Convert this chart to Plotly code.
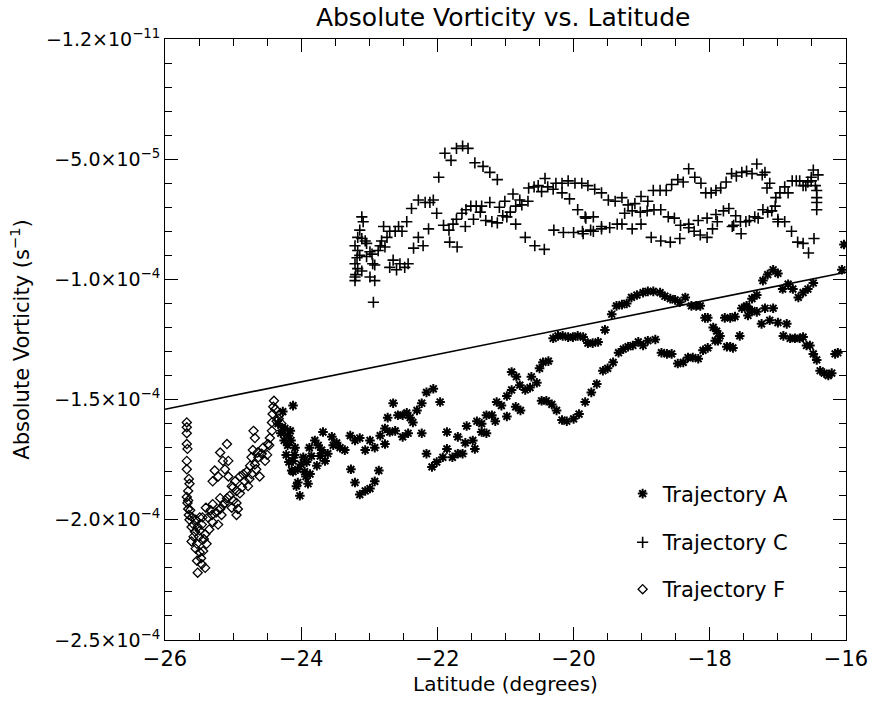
import numpy as np
import plotly.graph_objects as go

# ---------------- data (latitude in degrees, vorticity in units of 1e-5 s^-1) ----------------
lat_a = [-24.12, -24.27, -24.34, -24.24, -24.19, -24.15, -24.09, -24.16, -24.12, -24.12, -24.05, -24.02,
         -24.14, -23.92, -23.97, -23.87, -23.90, -23.85, -23.77, -23.80, -23.68, -23.72, -23.65, -23.61,
         -23.55, -23.53, -23.48, -23.43, -23.36, -23.28, -23.21, -23.14, -23.06, -22.99, -22.92, -22.84,
         -22.77, -22.70, -22.62, -22.77, -22.73, -22.65, -22.58, -22.51, -22.45, -22.40, -22.36, -22.30,
         -22.23, -22.16, -22.06, -21.96, -22.23, -22.43, -22.51,
         -24.20, -24.10, -24.00, -23.95, -24.05, -23.88, -23.75, -23.70, -24.22, -24.18, -24.25, -24.30,
         -24.07, -23.93,
         -23.27, -23.21, -23.14, -23.06, -22.99, -22.92, -22.86, -22.16, -22.08, -22.01, -21.92, -21.86,
         -21.78, -21.70, -21.63, -21.59, -21.70, -21.48, -21.45, -21.57, -21.42, -21.35, -21.35, -21.28,
         -21.28, -21.20, -21.15, -21.13, -21.06, -20.98, -20.98, -20.91, -20.91, -20.84, -20.79, -20.71,
         -20.64, -20.62, -20.54, -20.50, -20.45, -20.37, -20.78, -20.85, -21.86,
         -20.47, -20.40, -20.32, -20.25, -20.17, -20.10, -20.00, -19.92, -19.83, -19.74, -19.66, -19.57,
         -19.50, -19.42, -19.34, -19.27, -19.20, -19.13, -19.05, -18.98, -18.91, -18.80, -18.71, -18.63,
         -18.56, -18.47, -18.39, -18.32, -18.25, -18.17, -18.10, -18.03, -17.95, -17.90, -17.85, -17.92,
         -17.88, -17.75, -17.70, -17.66, -17.56, -17.53, -17.46, -17.44, -17.38, -17.31, -17.24, -17.19,
         -17.07, -17.12, -17.00, -16.87, -16.92, -16.82, -16.75, -16.68, -16.63, -16.58, -16.53, -16.48,
         -16.43, -16.38, -16.32, -16.26, -16.21, -16.16, -16.12,
         -20.30, -20.23, -20.16, -20.08, -20.01, -19.94, -19.86, -19.79, -19.72, -19.64, -19.54, -19.44,
         -19.37, -19.29, -19.22, -19.15, -19.07, -18.98, -18.91, -18.83, -18.73, -18.66, -18.58, -18.51,
         -18.44, -18.36, -18.27, -18.20, -18.14, -18.07, -18.03, -17.78, -17.70, -17.63, -17.46, -17.38,
         -17.31, -17.22, -17.15, -17.07, -17.00, -16.93, -16.85, -16.78, -16.70, -16.63, -16.56, -16.48,
         -16.06, -16.03]
vort_a = [-15.25, -15.5, -16.0, -16.2, -16.5, -16.7, -17.0, -16.3, -17.55, -18.0, -18.45, -19.0,
          -17.95, -17.6, -17.4, -18.1, -18.5, -17.35, -17.75, -16.7, -16.35, -17.35, -17.55, -17.25,
          -16.55, -16.9, -16.8, -17.0, -17.1, -16.5, -16.7, -16.6, -17.1, -16.7, -17.0, -16.5,
          -16.2, -16.35, -16.3, -16.85, -15.75, -15.15, -15.65, -15.65, -15.55, -15.75, -15.95, -15.45,
          -15.15, -14.7, -14.55, -15.1, -16.4, -16.4, -16.55,
          -16.9, -17.3, -17.7, -18.0, -17.9, -17.0, -16.9, -17.1, -17.3, -17.6, -16.7, -16.4,
          -18.6, -18.2,
          -17.9, -18.45, -18.95, -18.8, -18.7, -18.4, -17.95, -17.25, -17.8, -17.6, -17.4, -17.05,
          -17.4, -17.25, -17.25, -16.8, -16.55, -16.7, -17.05, -16.1, -15.9, -16.0, -16.35, -16.4,
          -15.65, -15.65, -15.9, -15.1, -15.25, -15.7, -14.85, -14.6, -13.85, -14.05, -14.4, -14.6,
          -14.5, -14.05, -14.3, -13.7, -13.45, -13.4, -15.45, -15.3, -16.35,
          -15.05, -15.05, -15.2, -15.45, -15.85, -15.9, -15.8, -15.6, -15.1, -14.7, -14.35, -13.8,
          -13.7, -13.45, -13.05, -12.9, -12.8, -12.75, -12.6, -12.75, -12.55, -12.5, -13.05, -13.1,
          -13.1, -13.5, -13.45, -13.25, -13.25, -13.3, -12.95, -12.85, -12.0, -12.15, -12.35, -12.55,
          -12.55, -12.8, -12.8, -12.85, -12.35, -11.2, -11.15, -11.5, -11.3, -11.35, -11.85, -11.2,
          -11.2, -11.7, -11.8, -11.85, -12.35, -12.45, -12.45, -12.45, -12.4, -12.75, -12.75, -13.1,
          -13.35, -13.8, -13.9, -14.0, -13.9, -13.1, -13.05,
          -12.45, -12.35, -12.35, -12.4, -12.4, -12.35, -12.4, -12.65, -12.65, -12.6, -12.1, -11.45,
          -11.1, -11.05, -11.0, -10.75, -10.65, -10.55, -10.5, -10.5, -10.55, -10.7, -10.8, -10.85,
          -10.95, -10.75, -11.1, -11.1, -11.1, -11.6, -11.6, -11.6, -11.6, -11.55, -11.1, -10.8,
          -10.65, -10.05, -9.8, -9.6, -9.75, -10.4, -10.2, -10.4, -10.75, -10.55, -10.4, -10.15,
          -9.6, -8.55]

lat_c = [-23.11, -23.09, -23.14, -23.17, -23.11, -23.06, -23.04, -23.21, -23.17, -23.14, -23.18, -23.21,
         -23.17, -23.11, -23.20, -23.21, -23.21, -23.04, -22.99, -22.96, -22.95, -22.92, -22.99, -22.92,
         -22.94, -22.87, -22.84, -22.79, -22.82, -22.74, -22.70, -22.62, -22.57, -22.52, -22.45, -22.77,
         -22.70, -22.65, -22.60, -22.55, -22.48, -22.43, -22.38, -22.35, -22.28, -22.28, -22.18, -22.11,
         -22.06, -22.21, -22.13, -22.01, -21.98, -21.89, -21.80, -21.72, -21.63, -21.55, -21.45, -21.33,
         -21.23, -21.12, -21.91, -21.83, -21.77, -21.72, -21.64, -21.58, -21.51, -21.43, -21.35, -21.37,
         -21.82, -21.71, -21.59, -21.47, -21.29, -21.20, -21.12, -21.23, -21.09, -21.01, -21.04, -20.98,
         -20.93, -20.89, -20.85, -20.85, -20.76, -20.79, -20.67, -20.71, -20.57, -20.43, -20.66, -20.58,
         -20.47, -20.52, -20.42, -20.38, -20.30, -20.26, -20.17, -20.17, -20.08, -19.98, -19.88, -19.79,
         -20.06, -19.94, -19.82, -20.29, -20.15, -20.00, -19.87, -19.75,
         -19.69, -19.59, -19.49, -19.39, -19.29, -19.20, -19.10, -19.01, -18.91, -18.83, -18.73, -18.64,
         -18.56, -18.47, -18.39, -18.31, -18.22, -18.13, -18.06, -17.98, -17.91, -17.84, -17.76, -17.68,
         -17.61, -17.53, -17.46, -17.38, -17.31, -17.23, -17.19, -17.16, -17.12, -17.03, -16.97, -16.90,
         -16.85, -16.79, -16.73, -16.68, -16.63, -16.56, -16.51, -16.48, -16.45, -16.43, -16.43, -16.43,
         -16.43, -16.51, -16.59, -16.41,
         -19.83, -19.71, -19.59, -19.47, -19.36, -19.29, -19.25, -19.14, -19.02, -18.92, -18.82, -18.72,
         -19.14, -19.01, -18.61, -18.52, -18.43, -18.31, -18.31, -18.17, -18.04, -17.96, -17.89, -17.91,
         -17.80, -17.72, -17.65, -17.62, -17.55, -17.47, -17.42, -17.34, -17.29, -17.22, -17.15, -17.09,
         -17.04, -17.00, -16.90, -17.00,
         -19.86, -19.71, -19.59, -18.86, -18.72, -18.58, -18.44, -18.23, -18.14, -18.04, -17.67, -17.54,
         -16.80, -16.71, -16.63, -16.55, -16.47]
vort_c = [-7.4, -7.6, -7.95, -8.25, -8.3, -8.4, -8.5, -8.6, -8.8, -9.0, -9.1, -9.35,
          -9.55, -9.65, -9.8, -9.9, -10.05, -9.05, -8.85, -8.95, -9.35, -9.4, -9.9, -10.05,
          -10.95, -8.8, -8.6, -7.8, -8.4, -8.25, -8.0, -8.0, -7.8, -8.0, -7.6, -8.65,
          -9.5, -9.2, -9.6, -9.35, -9.5, -9.35, -7.05, -8.7, -8.25, -6.7, -6.8, -6.8,
          -6.7, -8.6, -7.9, -7.25, -5.75, -4.75, -5.05, -4.55, -4.45, -4.55, -5.15, -5.3,
          -5.55, -5.85, -7.75, -7.95, -7.7, -7.5, -7.25, -7.1, -6.95, -6.95, -6.95, -7.2,
          -8.45, -8.65, -7.8, -7.5, -7.55, -7.6, -7.65, -6.8, -7.0, -6.75, -7.35, -7.4,
          -7.2, -6.45, -7.7, -6.95, -6.9, -6.7, -6.75, -8.25, -8.6, -8.75, -6.2, -6.15,
          -6.35, -6.1, -5.8, -6.15, -6.25, -6.0, -6.0, -6.4, -5.9, -6.0, -6.0, -6.1,
          -6.65, -7.1, -7.45, -7.95, -8.05, -8.05, -8.0, -7.95,
          -6.25, -6.4, -6.7, -6.75, -6.6, -6.9, -6.85, -6.55, -6.75, -6.3, -6.3, -6.3,
          -6.05, -5.85, -5.95, -5.4, -5.75, -6.0, -6.4, -6.4, -6.3, -6.2, -5.95, -5.6,
          -5.7, -5.55, -5.5, -5.6, -5.2, -5.65, -5.55, -6.2, -6.0, -6.6, -6.4, -6.15,
          -6.4, -5.9, -5.9, -5.9, -6.1, -5.95, -5.75, -5.45, -6.1, -6.3, -6.6, -6.8,
          -7.1, -5.9, -6.1, -5.65,
          -7.4, -7.4, -7.8, -7.85, -7.7, -7.7, -7.25, -7.15, -7.2, -7.15, -7.1, -7.1,
          -7.9, -7.7, -7.4, -7.45, -7.75, -7.7, -7.85, -7.55, -7.45, -7.9, -7.6, -7.3,
          -7.15, -7.05, -7.75, -7.35, -7.6, -7.6, -7.55, -7.4, -7.45, -7.1, -7.2, -7.15,
          -6.95, -7.5, -7.6, -7.6,
          -8.1, -8.0, -7.9, -8.25, -8.4, -8.45, -8.3, -8.0, -8.15, -8.25, -7.8, -8.1,
          -8.0, -8.45, -8.5, -8.9, -8.3]

lat_f = [-25.68, -25.68, -25.68, -25.68, -25.67, -25.68, -25.68, -25.65, -25.64, -25.66, -25.68, -25.67,
         -25.66, -25.65, -25.64, -25.61, -25.56, -25.58, -25.61, -25.53, -25.49, -25.53, -25.46, -25.52,
         -25.41, -25.39, -25.41, -25.46, -25.49, -25.49, -25.37, -25.30, -25.31, -25.22, -25.30, -25.19,
         -25.09, -25.15, -25.02, -24.95, -24.93, -25.05, -25.00, -24.95, -24.87, -24.83, -24.78, -24.80,
         -24.73, -24.75, -24.68, -24.73, -24.71, -24.63, -24.58, -24.53, -24.61, -24.68, -24.70, -24.49,
         -24.46, -24.43, -24.43, -24.42, -24.41, -24.40, -24.36, -24.31, -24.29, -24.24, -25.27, -25.30,
         -25.19, -25.09, -25.15, -25.07, -25.12, -25.22, -25.07, -25.02, -24.90, -25.19, -24.95,
         -25.66, -25.63, -25.60, -25.58, -25.55, -25.52, -25.50, -25.55, -25.47, -25.44, -25.43, -25.35,
         -25.33, -25.25, -25.17, -25.12, -25.00, -24.97, -24.90, -24.85, -24.76, -24.66, -24.64, -24.56,
         -24.50, -24.47, -24.38, -24.33, -24.27, -25.40, -25.45]
vort_f = [-15.95, -16.15, -16.4, -16.85, -17.05, -17.55, -17.9, -18.3, -18.5, -18.8, -19.05, -19.3,
          -19.55, -19.8, -20.0, -20.3, -20.5, -20.7, -20.9, -21.0, -21.35, -21.7, -21.85, -22.2,
          -22.0, -21.0, -20.6, -20.2, -19.9, -20.45, -19.9, -20.1, -19.8, -20.2, -19.35, -19.1,
          -19.1, -19.4, -19.5, -19.8, -19.55, -19.0, -18.65, -18.8, -18.65, -18.4, -18.6, -18.0,
          -18.1, -17.75, -17.7, -17.4, -17.1, -17.4, -17.25, -17.55, -18.2, -16.6, -16.3, -16.85,
          -16.6, -16.3, -15.95, -15.6, -15.3, -15.05, -15.9, -15.6, -16.0, -16.3, -17.95, -18.4,
          -17.2, -16.85, -17.55, -17.55, -17.9, -18.2, -18.2, -18.6, -18.2, -19.55, -19.3,
          -19.2, -19.6, -19.9, -20.2, -20.0, -20.3, -20.7, -21.2, -21.6, -21.3, -20.8, -20.4,
          -19.6, -19.7, -19.8, -19.3, -19.2, -18.4, -18.9, -18.1, -18.3, -17.9, -17.2, -17.0,
          -17.3, -16.9, -15.4, -15.8, -16.2, -19.5, -19.9]

fit_lat = [-26.0, -16.0]
fit_vort = [-15.4, -9.7]

scale = 1e-5
ytick_vals = [-2.5e-4, -2.0e-4, -1.5e-4, -1.0e-4, -5.0e-5, 0.0]
ytick_text = ["−2.5×10<sup>−4</sup>", "−2.0×10<sup>−4</sup>", "−1.5×10<sup>−4</sup>",
              "−1.0×10<sup>−4</sup>", "−5.0×10<sup>−5</sup>", "−1.2×10<sup>−11</sup>"]
xtick_vals = [-26, -24, -22, -20, -18, -16]
xtick_text = ["−26", "−24", "−22", "−20", "−18", "−16"]

FONT = "DejaVu Sans"

fig = go.Figure()
fig.add_trace(go.Scatter(x=fit_lat, y=[v * scale for v in fit_vort], mode="lines",
                         line=dict(color="black", width=1.6), showlegend=False, hoverinfo="skip"))
fig.add_trace(go.Scatter(x=lat_a, y=[v * scale for v in vort_a], mode="markers", name="Trajectory A",
                         marker=dict(symbol="asterisk-open", size=8, color="black",
                                     line=dict(color="black", width=2)), legend="legend"))
fig.add_trace(go.Scatter(x=lat_c, y=[v * scale for v in vort_c], mode="markers", name="Trajectory C",
                         marker=dict(symbol="cross-thin-open", size=8, color="black",
                                     line=dict(color="black", width=1.6)), legend="legend2"))
fig.add_trace(go.Scatter(x=lat_f, y=[v * scale for v in vort_f], mode="markers", name="Trajectory F",
                         marker=dict(symbol="diamond-open", size=7, color="black",
                                     line=dict(color="black", width=1.3)), legend="legend3"))

leg_common = dict(x=0.672, xanchor="left", yanchor="middle", bgcolor="rgba(0,0,0,0)",
                  font=dict(family=FONT, size=21, color="black"), itemsizing="trace")

fig.update_layout(
    template="none",
    width=869, height=702,
    margin=dict(l=165, r=23, t=39, b=62, autoexpand=False),
    paper_bgcolor="white", plot_bgcolor="white",
    title=dict(text="Absolute Vorticity vs. Latitude", x=0.579, xanchor="center", y=0.975,
               yanchor="middle", font=dict(family=FONT, size=25, color="black")),
    legend=dict(y=0.243, **leg_common),
    legend2=dict(y=0.162, **leg_common),
    legend3=dict(y=0.084, **leg_common),
    xaxis=dict(range=[-26, -16], tickmode="array", tickvals=xtick_vals, ticktext=xtick_text,
               automargin=False,
               ticks="inside", ticklen=13, tickwidth=1, tickcolor="black",
               showline=True, linecolor="black", linewidth=1, mirror="ticks",
               showgrid=False, zeroline=False,
               minor=dict(tickmode="array", tickvals=list(np.arange(-26, -15.99, 0.5)),
                          ticks="inside", ticklen=7, tickcolor="black", showgrid=False),
               tickfont=dict(family=FONT, size=21, color="black"),
               title=dict(text="Latitude (degrees)", font=dict(family=FONT, size=20, color="black"),
                          standoff=6)),
    yaxis=dict(range=[-2.5e-4, 0], tickmode="array", tickvals=ytick_vals, ticktext=ytick_text,
               automargin=False,
               ticks="inside", ticklen=13, tickwidth=1, tickcolor="black",
               showline=True, linecolor="black", linewidth=1, mirror="ticks",
               showgrid=False, zeroline=False,
               minor=dict(tickmode="array", tickvals=list(np.arange(-25e-5, 0.5e-6, 1e-5)),
                          ticks="inside", ticklen=7, tickcolor="black", showgrid=False),
               tickfont=dict(family=FONT, size=19, color="black"),
               title=dict(text="Absolute Vorticity (s<sup>−1</sup>)",
                          font=dict(family=FONT, size=21, color="black"), standoff=10)),
)

fig.write_html("out.html", config={"displayModeBar": False},
               post_script="document.body.style.margin='0px';document.body.style.padding='0px';")
